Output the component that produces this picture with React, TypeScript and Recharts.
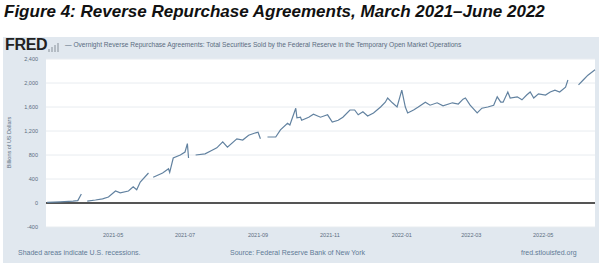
import React from 'react';
import { LineChart, Line, XAxis, YAxis, CartesianGrid, ReferenceLine } from 'recharts';

// dates; null = break in the drawn line
const dates = [
  '2021-03-06', '2021-03-17', '2021-03-28', '2021-04-01', '2021-04-04', '2021-04-06',
  '2021-04-09', '2021-04-16', '2021-04-22', '2021-04-27', '2021-05-03', '2021-05-07',
  '2021-05-14', '2021-05-18', '2021-05-21', '2021-05-24', '2021-05-31', '2021-06-02',
  '2021-06-04', '2021-06-12', '2021-06-17', '2021-06-18', '2021-06-21', '2021-06-27',
  '2021-07-01', '2021-07-03', '2021-07-04', '2021-07-06', '2021-07-10', '2021-07-18',
  '2021-07-24', '2021-07-28', '2021-08-02', '2021-08-06', '2021-08-14', '2021-08-19',
  '2021-08-24', '2021-08-30', '2021-09-01', '2021-09-03', '2021-09-05', '2021-09-09',
  '2021-09-16', '2021-09-20', '2021-09-26', '2021-09-28', '2021-10-03', '2021-10-04',
  '2021-10-07', '2021-10-08', '2021-10-14', '2021-10-18', '2021-10-24', '2021-10-30',
  '2021-11-03', '2021-11-08', '2021-11-12', '2021-11-18', '2021-11-22', '2021-11-25',
  '2021-11-29', '2021-12-03', '2021-12-08', '2021-12-14', '2021-12-18', '2021-12-20',
  '2021-12-24', '2021-12-28', '2022-01-01', '2022-01-04', '2022-01-06', '2022-01-11',
  '2022-01-15', '2022-01-21', '2022-01-25', '2022-01-31', '2022-02-05', '2022-02-13',
  '2022-02-18', '2022-02-22', '2022-02-24', '2022-02-28', '2022-03-06', '2022-03-10',
  '2022-03-15', '2022-03-20', '2022-03-23', '2022-03-26', '2022-03-28', '2022-04-01',
  '2022-04-03', '2022-04-09', '2022-04-13', '2022-04-17', '2022-04-20', '2022-04-23',
  '2022-04-27', '2022-05-03', '2022-05-07', '2022-05-11', '2022-05-15', '2022-05-20',
  '2022-05-22', '2022-05-26', '2022-05-31', '2022-06-04', '2022-06-08', '2022-06-14',
];

// billions of US dollars
const values: (number | null)[] = [
  10, 20, 30, 40, 150, null,
  30, 50, 70, 100, 200, 170,
  200, 270, 220, 350, 500, null,
  430, 500, 570, 510, 750, 800,
  850, 990, 750, null, 800, 820,
  880, 920, 1020, 930, 1070, 1050,
  1130, 1170, 1180, 1070, null, 1100,
  1100, 1220, 1330, 1300, 1580, 1420,
  1430, 1380, 1430, 1480, 1430, 1470,
  1350, 1380, 1430, 1550, 1550, 1470,
  1520, 1450, 1500, 1600, 1680, 1750,
  1670, 1600, 1880, 1600, 1500, 1550,
  1600, 1680, 1630, 1670, 1620, 1670,
  1650, 1730, 1750, 1630, 1500, 1580,
  1600, 1630, 1770, 1680, 1680, 1850,
  1750, 1770, 1720, 1800, 1850, 1750,
  1820, 1800, 1850, 1880, 1850, 1930,
  2050, null, 1970, 2050, 2130, 2220,
];

const xTickDates = ['2021-05-01', '2021-07-01', '2021-09-01', '2021-11-01', '2022-01-01', '2022-03-01', '2022-05-01'];
const yTicks = [-400, 0, 400, 800, 1200, 1600, 2000, 2400];

const toTime = (s: string) => Date.parse(s + 'T00:00:00Z');
const data = dates.map((d, i) => ({ t: toTime(d), v: values[i] }));
const xTicks = xTickDates.map(toTime);

const fmtMonth = (t: number) => {
  const d = new Date(t);
  return `${d.getUTCFullYear()}-${String(d.getUTCMonth() + 1).padStart(2, '0')}`;
};

const font = '"Liberation Sans", Arial, sans-serif';

export default function App() {
  return (
    <div style={{ position: 'absolute', left: 0, top: 0, width: 607, height: 270, background: '#fff', fontFamily: font }}>
      <div style={{ position: 'absolute', left: 4, top: 2, fontSize: 17, fontWeight: 700, fontStyle: 'italic', color: '#111', whiteSpace: 'nowrap' }}>
        Figure 4: Reverse Repurchase Agreements, March 2021–June 2022
      </div>
      <div style={{ position: 'absolute', left: 3, top: 37, width: 596, height: 226, background: '#e1e8ef' }} />
      <div style={{ position: 'absolute', left: 5, top: 36, fontSize: 16, fontWeight: 900, color: '#222', letterSpacing: -0.3 }}>FRED</div>
      {/* little chart icon next to the logo */}
      <svg style={{ position: 'absolute', left: 48, top: 43 }} width={11} height={9}>
        <rect x={0} y={6} width={2} height={3} fill="#b4bcc4" />
        <rect x={3} y={4} width={2} height={5} fill="#b4bcc4" />
        <rect x={6} y={2} width={2} height={7} fill="#b4bcc4" />
        <rect x={9} y={0} width={2} height={9} fill="#b4bcc4" />
      </svg>
      <div style={{ position: 'absolute', left: 65, top: 41, fontSize: 6.6, color: '#5a6c80', whiteSpace: 'nowrap' }}>
        — Overnight Reverse Repurchase Agreements: Total Securities Sold by the Federal Reserve in the Temporary Open Market Operations
      </div>
      <div style={{ position: 'absolute', left: 6, top: 180, transform: 'rotate(-90deg)', transformOrigin: 'left top', fontSize: 5.5, color: '#5a6c80', whiteSpace: 'nowrap', width: 75, textAlign: 'center' }}>
        Billions of US Dollars
      </div>
      <div style={{ position: 'absolute', left: 18, top: 249, fontSize: 7, color: '#5f7a96' }}>Shaded areas indicate U.S. recessions.</div>
      <div style={{ position: 'absolute', left: 230, top: 249, fontSize: 7, color: '#5f7a96' }}>Source: Federal Reserve Bank of New York</div>
      <div style={{ position: 'absolute', left: 521, top: 249, fontSize: 7, color: '#5f7a96' }}>fred.stlouisfed.org</div>
      <div style={{ position: 'absolute', left: 0, top: 0 }}>
        <LineChart width={607} height={270} data={data} margin={{ top: 59, right: 12, bottom: 23, left: 6 }}>
          <CartesianGrid horizontal vertical={false} stroke="#e8ecf0" fill="#ffffff" />
          <XAxis
            dataKey="t"
            type="number"
            scale="time"
            domain={[toTime('2021-03-05'), toTime('2022-06-14')]}
            ticks={xTicks}
            tickFormatter={fmtMonth}
            tickLine={false}
            axisLine={false}
            tickSize={0}
            tickMargin={6}
            height={20}
            tick={{ fontSize: 5.5, fill: '#5a6c80', fontFamily: font }}
          />
          <YAxis
            type="number"
            domain={[-400, 2400]}
            ticks={yTicks}
            tickFormatter={(v: number) => v.toLocaleString('en-US')}
            tickLine={false}
            axisLine={false}
            tickSize={0}
            tickMargin={8}
            width={40}
            tick={{ fontSize: 5.5, fill: '#5a6c80', fontFamily: font }}
          />
          <ReferenceLine y={0} stroke="#555" strokeWidth={2} />
          <Line type="linear" dataKey="v" stroke="#6282a0" strokeWidth={1.2} dot={false} isAnimationActive={false} />
        </LineChart>
      </div>
    </div>
  );
}
